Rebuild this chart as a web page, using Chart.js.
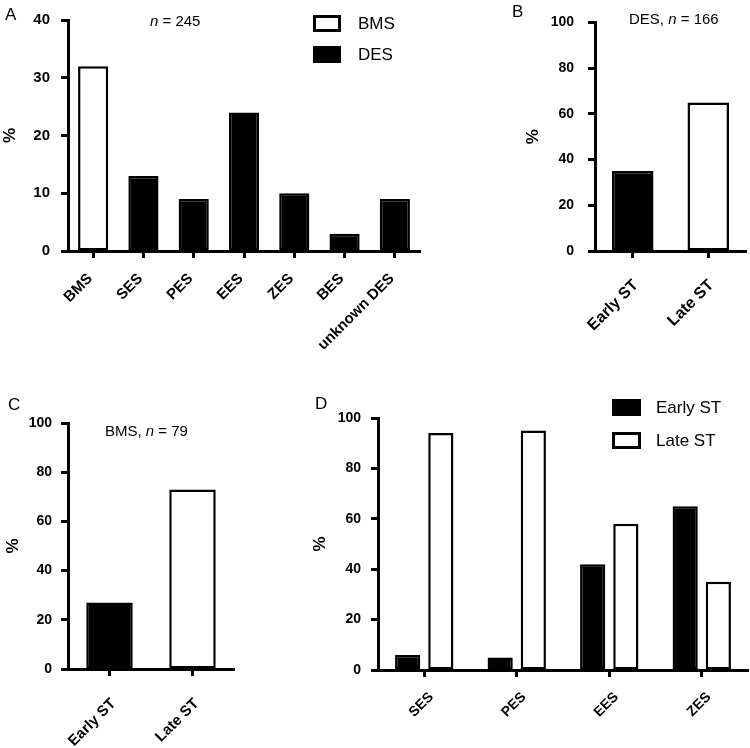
<!DOCTYPE html>
<html>
<head>
<meta charset="utf-8">
<script src="https://cdn.jsdelivr.net/npm/chart.js@4.4.1/dist/chart.umd.min.js"></script>
<style>
body { margin: 0; background: #fff; }
#fig { position: relative; width: 750px; height: 748px; font-family: "Liberation Sans", Arial, sans-serif; }
canvas { position: absolute; }
.lbl { position: absolute; white-space: nowrap; line-height: 1; color: #000; }
</style>
</head>
<body>
<div id="fig">
  <canvas id="chartA" width="440" height="360" style="left:0px;top:0px"></canvas>
  <canvas id="chartB" width="235" height="345" style="left:515px;top:0px"></canvas>
  <canvas id="chartC" width="250" height="353" style="left:0px;top:395px"></canvas>
  <canvas id="chartD" width="450" height="358" style="left:300px;top:390px"></canvas>

  <div class="lbl" style="left:5px;top:6px;font-size:17px">A</div>
  <div class="lbl" style="left:512px;top:3px;font-size:17px">B</div>
  <div class="lbl" style="left:8px;top:396px;font-size:17px">C</div>
  <div class="lbl" style="left:315px;top:395px;font-size:17px">D</div>

  <div class="lbl" style="left:150px;top:13px;font-size:15px"><i>n</i> = 245</div>
  <div class="lbl" style="left:629px;top:11px;font-size:15px">DES, <i>n</i> = 166</div>
  <div class="lbl" style="left:105px;top:423px;font-size:15px">BMS, <i>n</i> = 79</div>
</div>
<script>
const FONT = '"Liberation Sans", Arial, sans-serif';

// panel A
const typesA = ['BMS', 'SES', 'PES', 'EES', 'ZES', 'BES', 'unknown DES'];
const bmsA = [32, null, null, null, null, null, null];
const desA = [null, 13, 9, 24, 10, 3, 9];
const yTicksA = [0, 10, 20, 30, 40];

// panels B and C
const stages = ['Early ST', 'Late ST'];
const desStage = [35, 65];
const bmsStage = [27, 73];
const yTicksPct = [0, 20, 40, 60, 80, 100];

// panel D
const typesD = ['SES', 'PES', 'EES', 'ZES'];
const earlyD = [6, 5, 42, 65];
const lateD = [94, 95, 58, 35];

const boxLegend = {
  id: 'boxLegend',
  afterDraw(chart, args, o) {
    const ctx = chart.ctx;
    ctx.save();
    chart.data.datasets.forEach((ds, i) => {
      const y = o.y + i * o.gap;
      ctx.fillStyle = ds.backgroundColor;
      ctx.fillRect(o.x, y, o.w, o.h);
      ctx.lineWidth = 3;
      ctx.strokeStyle = '#000';
      ctx.strokeRect(o.x + 1.5, y + 1.5, o.w - 3, o.h - 3);
      ctx.fillStyle = '#000';
      ctx.font = o.size + 'px ' + FONT;
      ctx.textBaseline = 'middle';
      ctx.fillText(ds.label, o.tx, y + o.h / 2 + 1);
    });
    ctx.restore();
  }
};

function yAxis(ticks, width, pad, size) {
  return {
    min: ticks[0],
    max: ticks[ticks.length - 1],
    afterBuildTicks: s => { s.ticks = ticks.map(v => ({ value: v })); },
    afterFit: s => { s.width = width; },
    grid: { drawOnChartArea: false, tickLength: 7, tickWidth: 3, tickColor: '#000' },
    border: { color: '#000', width: 3 },
    ticks: { color: '#000', padding: pad, font: { family: FONT, size: size, weight: 'bold' } },
    title: { display: true, text: '%', color: '#000', padding: 0, font: { family: FONT, size: 17, weight: 'bold' } }
  };
}

function xAxis(height, pad, shift, size) {
  return {
    afterFit: s => { s.height = height; },
    grid: { drawOnChartArea: false, offset: false, tickLength: 7, tickWidth: 3, tickColor: '#000' },
    border: { color: '#000', width: 3 },
    ticks: {
      color: '#000', autoSkip: false, minRotation: 45, maxRotation: 45,
      padding: pad, labelOffset: shift,
      font: { family: FONT, size: size, weight: 'bold' }
    }
  };
}

const baseOpts = {
  responsive: false,
  animation: false,
  events: [],
  plugins: { legend: { display: false }, tooltip: { enabled: false } }
};

new Chart(document.getElementById('chartA'), {
  type: 'bar',
  data: {
    labels: typesA,
    datasets: [
      { label: 'BMS', data: bmsA, backgroundColor: '#fff' },
      { label: 'DES', data: desA, backgroundColor: '#000' }
    ]
  },
  options: {
    ...baseOpts,
    layout: { padding: { left: 0, top: 9, right: 20, bottom: 0 } },
    datasets: { bar: { grouped: false, categoryPercentage: 1, barPercentage: 0.6, borderColor: '#000', borderWidth: 2.5, borderSkipped: false } },
    plugins: { ...baseOpts.plugins, boxLegend: { x: 313, y: 15, w: 28, h: 17, gap: 31, tx: 358, size: 17 } },
    scales: { x: xAxis(109, 12, -3, 15), y: yAxis(yTicksA, 68, 11, 15) }
  },
  plugins: [boxLegend]
});

new Chart(document.getElementById('chartB'), {
  type: 'bar',
  data: {
    labels: stages,
    datasets: [{ label: 'DES', data: desStage, backgroundColor: ['#000', '#fff'] }]
  },
  options: {
    ...baseOpts,
    layout: { padding: { left: 8, top: 7, right: 4, bottom: 0 } },
    datasets: { bar: { categoryPercentage: 1, barPercentage: 0.55, borderColor: '#000', borderWidth: 2.5, borderSkipped: false } },
    scales: { x: xAxis(94, 18, 3, 16), y: yAxis(yTicksPct, 72, 14, 14) }
  }
});

new Chart(document.getElementById('chartC'), {
  type: 'bar',
  data: {
    labels: stages,
    datasets: [{ label: 'BMS', data: bmsStage, backgroundColor: ['#000', '#fff'] }]
  },
  options: {
    ...baseOpts,
    layout: { padding: { left: 3, top: 28, right: 16, bottom: 0 } },
    datasets: { bar: { categoryPercentage: 1, barPercentage: 0.56, borderColor: '#000', borderWidth: 2.5, borderSkipped: false } },
    scales: { x: xAxis(79, 19, 4, 15), y: yAxis(yTicksPct, 65, 9, 14) }
  }
});

new Chart(document.getElementById('chartD'), {
  type: 'bar',
  data: {
    labels: typesD,
    datasets: [
      { label: 'Early ST', data: earlyD, backgroundColor: '#000' },
      { label: 'Late ST', data: lateD, backgroundColor: '#fff' }
    ]
  },
  options: {
    ...baseOpts,
    layout: { padding: { left: 10, top: 28, right: 2, bottom: 0 } },
    datasets: { bar: { categoryPercentage: 0.717, barPercentage: 0.76, borderColor: '#000', borderWidth: 2.5, borderSkipped: false } },
    plugins: { ...baseOpts.plugins, boxLegend: { x: 312, y: 9, w: 29, h: 17, gap: 33, tx: 356, size: 17 } },
    scales: { x: xAxis(78, 12, 7, 14), y: yAxis(yTicksPct, 68, 10, 14) }
  },
  plugins: [boxLegend]
});
</script>
</body>
</html>
